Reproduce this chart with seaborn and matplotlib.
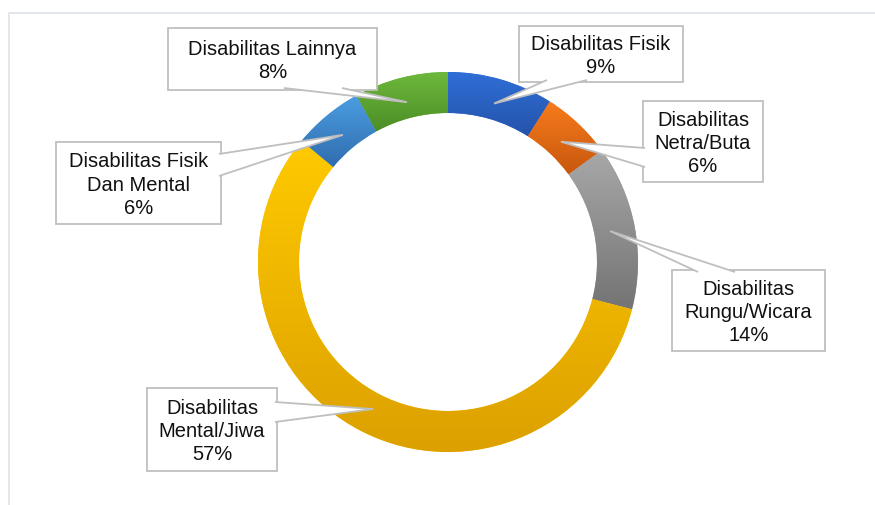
import numpy as np
import matplotlib
matplotlib.use("Agg")
import matplotlib.pyplot as plt
from matplotlib.patches import Polygon, Rectangle
from matplotlib.colors import LinearSegmentedColormap
import seaborn as sns

# data (share of each disability type, %)
categories = [
    "Disabilitas Fisik",
    "Disabilitas\nNetra/Buta",
    "Disabilitas\nRungu/Wicara",
    "Disabilitas\nMental/Jiwa",
    "Disabilitas Fisik\nDan Mental",
    "Disabilitas Lainnya",
]
shares = [9, 6, 14, 57, 6, 8]

# gradient fill of each slice, top -> bottom
top_colors = ["#2F6FD8", "#F77B1C", "#A8A8A8", "#FFCA00", "#4C9DE2", "#6EB93C"]
bottom_colors = ["#2553AA", "#C8580E", "#747474", "#DCA000", "#2F6DAE", "#4C8E27"]

# callout boxes in pixels (x0, y0, x1, y1) and where the pointer leaves the box
boxes = [
    (519, 27, 683, 83),
    (643, 102, 763, 183),
    (672, 271, 825, 352),
    (147, 389, 277, 472),
    (56, 143, 221, 225),
    (168, 29, 377, 91),
]
bases = [
    ("bottom", 547, 587),
    ("left", 149, 168),
    ("top", 698, 735),
    ("right", 403, 423),
    ("right", 155, 177),
    ("bottom", 284, 342),
]

W, H = 875, 506
cx, cy, radius, ring = 448, 263, 190, 41
edge = "#BFBFBF"

sns.set_style("white")
plt.rcParams["font.family"] = ["Liberation Sans", "DejaVu Sans"]

fig = plt.figure(figsize=(W / 100, H / 100), dpi=100)
ax = fig.add_axes([0, 0, 1, 1])

# y axis points down so pixel positions can be used directly;
# visually clockwise from 12 o'clock
wedges, _ = ax.pie(
    shares,
    center=(cx, cy),
    radius=radius,
    startangle=270,
    counterclock=True,
    wedgeprops=dict(width=ring, linewidth=0),
)

# vertical gradient for each slice, clipped to the wedge
grad = np.linspace(0, 1, 256).reshape(-1, 1)
for w, c0, c1 in zip(wedges, top_colors, bottom_colors):
    w.set_facecolor(c0)
    ext = w.get_path().get_extents()
    cmap = LinearSegmentedColormap.from_list("g", [c0, c1])
    im = ax.imshow(grad, cmap=cmap, aspect="auto", origin="upper",
                   extent=(ext.x0, ext.x1, ext.y1, ext.y0), zorder=2)
    im.set_clip_path(w)
ax.set_xlim(0, W)
ax.set_ylim(H, 0)
ax.axis("off")

# callouts
angles = np.cumsum([0] + shares[:-1]) + np.array(shares) / 2
for lab, pct, ang, box, base in zip(categories, shares, angles, boxes, bases):
    theta = np.deg2rad(ang / 100 * 360)
    tip = (cx + 165 * np.sin(theta), cy - 165 * np.cos(theta))
    x0, y0, x1, y1 = box
    side, a, b = base
    if side == "bottom":
        p1, p2 = (a, y1 - 2), (b, y1 - 2)
    elif side == "top":
        p1, p2 = (a, y0 + 2), (b, y0 + 2)
    elif side == "left":
        p1, p2 = (x0 + 2, a), (x0 + 2, b)
    else:
        p1, p2 = (x1 - 2, a), (x1 - 2, b)
    ax.add_patch(Rectangle((x0, y0), x1 - x0, y1 - y0, facecolor="white",
                           edgecolor=edge, linewidth=1.3, zorder=4))
    ax.add_patch(Polygon([p1, tip, p2], closed=False, facecolor="white",
                         edgecolor=edge, linewidth=1.3, zorder=5))
    ax.text((x0 + x1) / 2, (y0 + y1) / 2 + 1, f"{lab}\n{pct}%", ha="center",
            va="center", fontsize=14.5, color="#111111", linespacing=1.28,
            zorder=6)

# chart area frame
ax.plot([9, 9, W], [H, 14, 14], color="#DCE3EA", linewidth=1.2, zorder=1,
        clip_on=False)

fig.savefig("out.png", dpi=100)
